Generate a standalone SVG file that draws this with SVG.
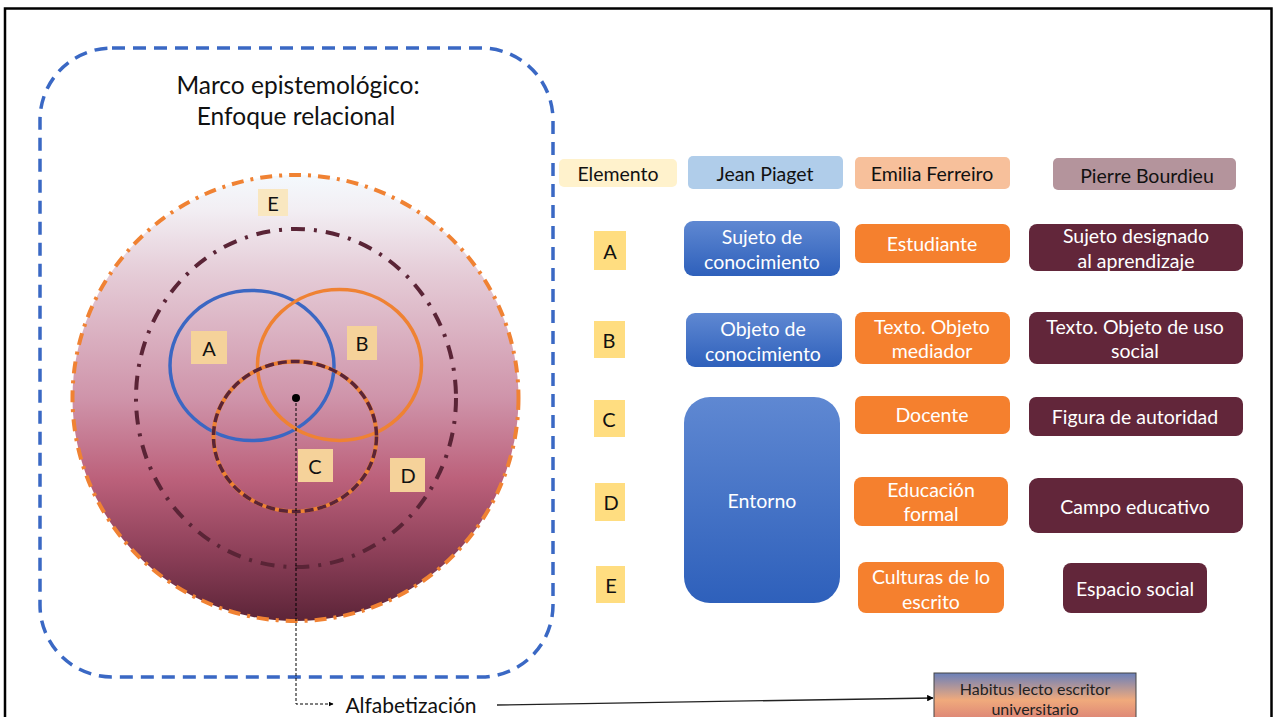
<svg xmlns="http://www.w3.org/2000/svg" width="1277" height="717" viewBox="0 0 1277 717">
  <defs>
    <linearGradient id="sphere" x1="0" y1="0" x2="0" y2="1">
      <stop offset="0" stop-color="#f4f9fd"/>
      <stop offset="0.08" stop-color="#f2eef3"/>
      <stop offset="0.22" stop-color="#e5ccd7"/>
      <stop offset="0.5" stop-color="#cf94aa"/>
      <stop offset="0.68" stop-color="#bc617b"/>
      <stop offset="0.85" stop-color="#8c3f58"/>
      <stop offset="1" stop-color="#5c2438"/>
    </linearGradient>
    <linearGradient id="blueBox" x1="0" y1="0" x2="0" y2="1">
      <stop offset="0" stop-color="#5f88d2"/>
      <stop offset="1" stop-color="#2e60bb"/>
    </linearGradient>
    <linearGradient id="habitus" x1="0" y1="0" x2="0" y2="1">
      <stop offset="0" stop-color="#6a80ba"/>
      <stop offset="0.45" stop-color="#f0aa7c"/>
      <stop offset="1" stop-color="#cf6a72"/>
    </linearGradient>
    <marker id="arrow" viewBox="0 0 10 10" refX="9" refY="5" markerWidth="5" markerHeight="5" orient="auto">
      <path d="M0,0 L10,5 L0,10 z" fill="#000"/>
    </marker>
    <style>
      text { font-family: Lato, "Liberation Sans", sans-serif; text-anchor: middle; dominant-baseline: central; }
      .dark { fill: #111; font-size: 19.5px; }
      .white { fill: #fff; font-size: 19.5px; }
      .letter { fill: #111; font-size: 20px; }
      .tag { fill: #f5d29a; }
      .ylw { fill: #ffdd80; }
      .orange { fill: #f5802e; }
      .maroon { fill: #62263a; }
    </style>
  </defs>

  <rect x="0" y="0" width="1277" height="717" fill="#fff"/>
  <!-- outer frame -->
  <rect x="5" y="8.5" width="1266.5" height="720" fill="none" stroke="#000" stroke-width="2.5"/>

  <!-- epistemological frame -->
  <g id="marco">
    <rect x="40" y="48" width="513" height="629" rx="72" ry="72" fill="none" stroke="#3a68c4" stroke-width="3.5" stroke-dasharray="13 8"/>
    <text x="298" y="84" style="font-size:24.5px" fill="#111">Marco epistemológico:</text>
    <text x="296" y="115" style="font-size:24.5px" fill="#111">Enfoque relacional</text>
  </g>

  <!-- concentric circles -->
  <g id="esfera">
    <circle cx="295.5" cy="398" r="223" fill="url(#sphere)" stroke="#f08233" stroke-width="4" stroke-dasharray="12 7 3 7"/>
    <ellipse cx="296" cy="398" rx="160" ry="169" fill="none" stroke="#5a2436" stroke-width="4" stroke-dasharray="14 9 3 9"/>
    <ellipse cx="252" cy="365.5" rx="82" ry="75" fill="none" stroke="#3b67c3" stroke-width="3.5"/>
    <ellipse cx="339.5" cy="365" rx="82" ry="75.5" fill="none" stroke="#ef8233" stroke-width="3.5"/>
    <ellipse cx="295" cy="436.5" rx="81.5" ry="75" fill="none" stroke="#ef8233" stroke-width="4"/>
    <ellipse cx="295" cy="436.5" rx="81.5" ry="75" fill="none" stroke="#5a2436" stroke-width="3.5" stroke-dasharray="9 4"/>
  </g>

  <g id="etiqueta-E"><rect x="258" y="189" width="30" height="27" fill="#f9e7c0"/><text class="letter" x="273" y="203">E</text></g>
  <g id="etiqueta-A"><rect x="191" y="331" width="36" height="33" class="tag"/><text class="letter" x="209" y="348">A</text></g>
  <g id="etiqueta-B"><rect x="347" y="326" width="30" height="34" class="tag"/><text class="letter" x="362" y="343">B</text></g>
  <g id="etiqueta-C"><rect x="298" y="449" width="35" height="33" class="tag"/><text class="letter" x="315" y="466">C</text></g>
  <g id="etiqueta-D"><rect x="390" y="458" width="35" height="34" class="tag"/><text class="letter" x="408" y="475">D</text></g>

  <!-- connectors -->
  <g id="conectores" fill="none">
    <circle cx="296" cy="398" r="4" fill="#000"/>
    <polyline points="296,398 296,704 333,704" stroke="#000" stroke-width="1" stroke-dasharray="3 2" marker-end="url(#arrow)"/>
    <line x1="497" y1="705" x2="933" y2="698" stroke="#222" stroke-width="1.3" marker-end="url(#arrow)"/>
  </g>

  <g id="alfabetizacion"><text x="411" y="704" style="font-size:21px" fill="#111">Alfabetización</text></g>

  <g id="habitus">
    <rect x="934" y="673" width="202" height="60" fill="url(#habitus)" stroke="#444" stroke-width="1"/>
    <text x="1035" y="688" style="font-size:16px" fill="#222">Habitus lecto escritor</text>
    <text x="1035" y="708" style="font-size:16px" fill="#222">universitario</text>
  </g>

  <!-- header row -->
  <g id="h-elemento"><rect x="559" y="159" width="118" height="28" rx="5" fill="#fff2cc"/><text class="dark" x="618" y="173">Elemento</text></g>
  <g id="h-piaget"><rect x="688" y="156" width="155" height="33" rx="5" fill="#b0cdea"/><text class="dark" x="765" y="173">Jean Piaget</text></g>
  <g id="h-ferreiro"><rect x="855" y="157" width="155" height="32" rx="5" fill="#f7c09b"/><text class="dark" x="932" y="173">Emilia Ferreiro</text></g>
  <g id="h-bourdieu"><rect x="1053" y="158" width="183" height="32" rx="5" fill="#b4949c"/><text class="dark" x="1147" y="175">Pierre Bourdieu</text></g>

  <!-- row A -->
  <g id="A"><rect x="594" y="231" width="32" height="39" class="ylw"/><text class="letter" x="610" y="251">A</text></g>
  <g id="A-piaget"><rect x="684" y="221" width="156" height="55" rx="9" fill="url(#blueBox)"/><text class="white" x="762" y="236">Sujeto de</text><text class="white" x="762" y="261">conocimiento</text></g>
  <g id="A-ferreiro"><rect x="855" y="224" width="155" height="39" rx="7" class="orange"/><text class="white" x="932" y="243">Estudiante</text></g>
  <g id="A-bourdieu"><rect x="1029" y="224" width="214" height="47" rx="8" class="maroon"/><text class="white" x="1136" y="235">Sujeto designado</text><text class="white" x="1136" y="260">al aprendizaje</text></g>

  <!-- row B -->
  <g id="B"><rect x="594" y="321" width="31" height="37" class="ylw"/><text class="letter" x="609" y="340">B</text></g>
  <g id="B-piaget"><rect x="686" y="313" width="156" height="54" rx="9" fill="url(#blueBox)"/><text class="white" x="763" y="328">Objeto de</text><text class="white" x="763" y="353">conocimiento</text></g>
  <g id="B-ferreiro"><rect x="855" y="312" width="155" height="52" rx="8" class="orange"/><text class="white" x="932" y="326">Texto. Objeto</text><text class="white" x="932" y="350">mediador</text></g>
  <g id="B-bourdieu"><rect x="1029" y="312" width="214" height="52" rx="8" class="maroon"/><text class="white" x="1135" y="326">Texto. Objeto de uso</text><text class="white" x="1135" y="350">social</text></g>

  <!-- row C -->
  <g id="C"><rect x="594" y="400" width="31" height="37" class="ylw"/><text class="letter" x="609" y="419">C</text></g>
  <g id="entorno"><rect x="684" y="397" width="156" height="206" rx="26" fill="url(#blueBox)"/><text class="white" x="762" y="500">Entorno</text></g>
  <g id="C-ferreiro"><rect x="855" y="396" width="155" height="38" rx="7" class="orange"/><text class="white" x="932" y="414">Docente</text></g>
  <g id="C-bourdieu"><rect x="1029" y="397" width="214" height="39" rx="7" class="maroon"/><text class="white" x="1135" y="416">Figura de autoridad</text></g>

  <!-- row D -->
  <g id="D"><rect x="595" y="483" width="30" height="38" class="ylw"/><text class="letter" x="611" y="502">D</text></g>
  <g id="D-ferreiro"><rect x="854" y="477" width="154" height="49" rx="8" class="orange"/><text class="white" x="931" y="489">Educación</text><text class="white" x="931" y="513">formal</text></g>
  <g id="D-bourdieu"><rect x="1029" y="478" width="214" height="55" rx="9" class="maroon"/><text class="white" x="1135" y="506">Campo educativo</text></g>

  <!-- row E -->
  <g id="E"><rect x="596" y="566" width="29" height="37" class="ylw"/><text class="letter" x="611" y="585">E</text></g>
  <g id="E-ferreiro"><rect x="858" y="562" width="146" height="51" rx="8" class="orange"/><text class="white" x="931" y="576">Culturas de lo</text><text class="white" x="931" y="601">escrito</text></g>
  <g id="E-bourdieu"><rect x="1063" y="563" width="144" height="50" rx="8" class="maroon"/><text class="white" x="1135" y="588">Espacio social</text></g>
</svg>
